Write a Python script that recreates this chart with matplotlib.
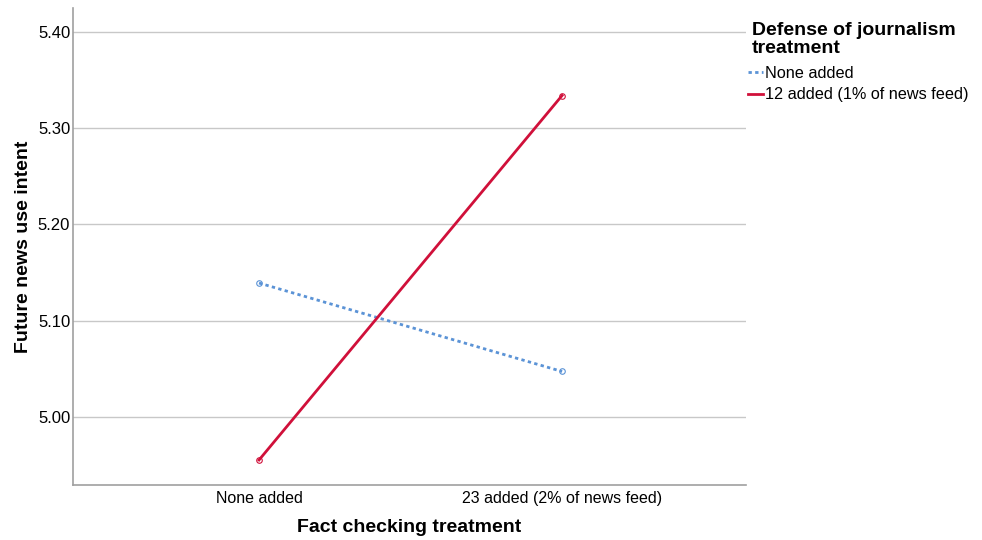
import matplotlib.pyplot as plt
import numpy as np

plt.rcParams['font.family'] = ['Liberation Sans', 'DejaVu Sans']

categories = ['None added', '23 added (2% of news feed)']
none_added = [5.139, 5.047]
twelve_added = [4.955, 5.334]
series_names = ['None added', '12 added (1% of news feed)']
legend_title = 'Defense of journalism\ntreatment'
yticks = [5.00, 5.10, 5.20, 5.30, 5.40]

fig = plt.figure(figsize=(9.82, 5.4), dpi=100)
ax = fig.add_axes([0.0743, 0.1019, 0.6854, 0.8833])

x = np.arange(len(categories))
ax.plot(x, none_added, color='#5b93d6', lw=2, ls=(0, (1.2, 1.2)),
        marker='o', ms=4, mfc='none', mew=0.8, label=series_names[0])
ax.plot(x, twelve_added, color='#d0103a', lw=2, ls='-',
        marker='o', ms=4, mfc='none', mew=0.8, label=series_names[1])

ax.set_xlim(-0.614, 1.607)
ax.set_ylim(4.929, 5.425)
ax.set_xticks(x)
ax.set_xticklabels(categories, fontsize=11.5)
ax.set_yticks(yticks)
ax.set_yticklabels(['%.2f' % v for v in yticks], fontsize=12)
ax.tick_params(axis='y', length=0, pad=2)
ax.tick_params(axis='x', length=0, pad=4)
ax.grid(axis='y', color='#c8c8c8', lw=1)
ax.set_axisbelow(True)
for s in ['top', 'right']:
    ax.spines[s].set_visible(False)
for s in ['left', 'bottom']:
    ax.spines[s].set_color('#a0a0a0')
    ax.spines[s].set_linewidth(1.2)

ax.set_xlabel('Fact checking treatment', fontsize=14, fontweight='bold', labelpad=10)
ax.set_ylabel('Future news use intent', fontsize=14, fontweight='bold', labelpad=4)

# legend title as separate text so spacing matches
fig.text(752 / 982, 1 - 22 / 540, legend_title, fontsize=14, fontweight='bold',
         va='top', ha='left', linespacing=1.05)
leg = fig.legend(loc='upper left', bbox_to_anchor=(748 / 982, 1 - 66 / 540),
                 bbox_transform=fig.transFigure, frameon=False, fontsize=11.7,
                 handlelength=0.9, handletextpad=0.15, borderaxespad=0,
                 borderpad=0, labelspacing=0.4)
for h in leg.legend_handles:
    h.set_marker('')

fig.savefig('out.png', dpi=100)
